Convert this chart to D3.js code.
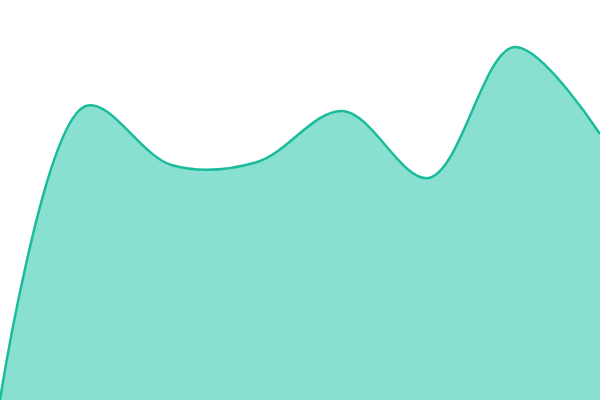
<!DOCTYPE html>
<html>
<head>
<meta charset="utf-8">
<script src="https://cdn.jsdelivr.net/npm/d3@7"></script>
<style>
html, body { margin: 0; padding: 0; background: #fff; }
svg { display: block; }
</style>
</head>
<body>
<svg id="chart" width="600" height="400"></svg>
<script>
const categories = [0, 1, 2, 3, 4, 5, 6, 7];
const values = [0, 294, 235, 238, 289, 222, 353, 266];

const width = 600, height = 400;
const svg = d3.select("#chart");

const x = d3.scaleLinear().domain([0, categories.length - 1]).range([0, width]);
const y = d3.scaleLinear().domain([0, 400]).range([height, 0]);

const data = categories.map((c, i) => ({ c, v: values[i] }));

const area = d3.area()
  .x(d => x(d.c))
  .y0(height)
  .y1(d => y(d.v))
  .curve(d3.curveCatmullRom);

const line = d3.line()
  .x(d => x(d.c))
  .y(d => y(d.v))
  .curve(d3.curveCatmullRom);

svg.append("path")
  .datum(data)
  .attr("d", area)
  .attr("fill", "#8ae0d0");

svg.append("path")
  .datum(data)
  .attr("d", line)
  .attr("fill", "none")
  .attr("stroke", "#1abc9c")
  .attr("stroke-width", 2.5);
</script>
</body>
</html>
